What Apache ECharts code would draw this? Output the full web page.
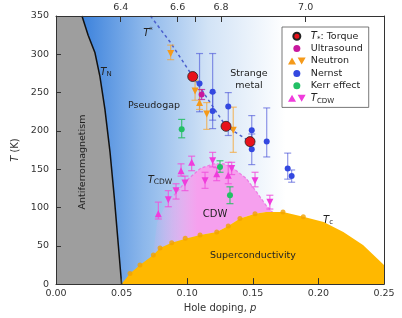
<!DOCTYPE html>
<html><head><meta charset="utf-8">
<script src="https://cdn.jsdelivr.net/npm/echarts@6/dist/echarts.min.js"></script>
<style>html,body{margin:0;padding:0;background:#fff}#c{width:402px;height:318px}</style>
</head><body><div id="c"></div>
<script>
// ---- phase boundaries ----
const tnP = [0.0198, 0.0245, 0.0297, 0.0335, 0.0373, 0.0412, 0.0445, 0.0475, 0.0500];
const tnT = [350, 325, 302, 271, 228, 172, 112, 51, 0];
const scP = [0.050, 0.0564, 0.064, 0.0742, 0.0793, 0.0882, 0.100, 0.1098, 0.1225, 0.1313, 0.1402, 0.1517, 0.160, 0.173, 0.1885, 0.204, 0.219, 0.234, 0.2444, 0.250];
const scT = [0, 14, 25, 38, 47, 54, 60, 64, 68, 76, 85.6, 92, 94, 94, 88, 81, 68, 51, 34, 25];
const scDotP = [0.0564, 0.064, 0.0742, 0.0793, 0.0882, 0.0985, 0.1098, 0.1225, 0.1313, 0.1402, 0.1517, 0.173, 0.1885];
const scDotT = [14, 25, 38, 47, 54, 60, 64, 68, 76, 85.6, 92, 94, 88];
const cdwP = [0.074, 0.077, 0.082, 0.090, 0.100, 0.110, 0.120, 0.128, 0.136, 0.145, 0.153, 0.160, 0.165];
const cdwT = [39, 80, 98, 116, 136, 151, 157, 157, 150, 138, 120, 103, 94];
const tStarP = [0.072, 0.087, 0.1042, 0.1296, 0.1479];
const tStarT = [350, 316, 271, 206, 186];

// ---- measurements ----
const torqueP = [0.1042, 0.1296, 0.1479];
const torqueT = [271, 206, 186];
const ultraP = [0.111];  const ultraT = [247.6];
const ultraLo = [241];   const ultraHi = [254];
const neutronP = [0.0874, 0.106, 0.1094, 0.1149, 0.1351];
const neutronT = [301, 252, 237, 222, 201];
const neutronLo = [293, 240, 228, 202, 172];
const neutronHi = [312, 266, 254, 237, 231];
const neutronDir = ['down', 'down', 'up', 'down', 'down'];
const nernstP = [0.1094, 0.1194, 0.1194, 0.1313, 0.1492, 0.1492, 0.1606, 0.1766, 0.1796];
const nernstT = [262, 251, 226, 232, 201, 176, 186, 151, 141];
const nernstLo = [225, 214, 203, 194, 182, 156, 166, 137, 133];
const nernstHi = [301, 301, 250, 250, 220, 196, 230, 171, 149];
const kerrP = [0.0958, 0.125, 0.1326];
const kerrT = [202, 153, 116];
const kerrLo = [191, 146, 105];
const kerrHi = [215, 161, 127];
const cdwMP = [0.078, 0.0953, 0.1034, 0.1225, 0.1313, 0.0856, 0.0915, 0.0983, 0.1136, 0.1194, 0.1339, 0.1517, 0.163];
const cdwMT = [92, 148, 159, 144, 142, 110, 122, 132, 135, 161, 151, 135, 107];
const cdwMLo = [85, 141, 148, 135, 131, 101, 111, 122, 125, 153, 143, 127, 98];
const cdwMHi = [107, 157, 167, 152, 159, 122, 131, 141, 146, 172, 159, 146, 116];
const cdwMDir = ['up','up','up','up','up','down','down','down','down','down','down','down','down'];

// ---- axis ticks ----
const xTicks = [0, 0.05, 0.10, 0.15, 0.20, 0.25];
const yTicks = [0, 50, 100, 150, 200, 250, 300, 350];
const topLabelP = [0.0493, 0.0927, 0.1258, 0.1903];
const topLabels = ['6.4', '6.6', '6.8', '7.0'];
const topTickP = [0.0493, 0.0927, 0.1065, 0.1258, 0.1903];

const FONT = 'DejaVu Sans';
const chart = echarts.init(document.getElementById('c'), null, {renderer: 'canvas'});

function pts(api, ps, ts) { return ps.map((p, i) => api.coord([p, ts[i]])); }

const regions = {
  type: 'custom', coordinateSystem: 'cartesian2d', z: 1, silent: true,
  data: [[0, 0]],
  renderItem: (params, api) => {
    const c = (p, t) => api.coord([p, t]);
    const tn = pts(api, tnP, tnT);
    const xa = c(tnP[0], 0)[0], xb = c(0.175, 0)[0];
    const blue = new echarts.graphic.LinearGradient(xa, 0, xb, 0, [
      {offset: 0, color: 'rgb(60,130,220)'},
      {offset: 0.3, color: 'rgb(140,183,235)'},
      {offset: 0.62, color: 'rgb(210,227,246)'},
      {offset: 1, color: 'rgb(255,255,255)'}
    ], true);
    const sc = pts(api, scP, scT);
    const scPoly = [...sc, c(0.25, 0)];
    const top = pts(api, cdwP, cdwT);
    const bot = [];
    for (let i = scP.length - 1; i >= 0; i--) {
      if (scP[i] > cdwP[0] && scP[i] < cdwP[cdwP.length - 1]) bot.push(c(scP[i], scT[i]));
    }
    const pa = c(0.073, 0)[0], pb = c(0.108, 0)[0];
    const pink = new echarts.graphic.LinearGradient(pa, 0, pb, 0, [
      {offset: 0, color: 'rgba(246,160,238,0.05)'},
      {offset: 1, color: 'rgba(246,160,238,1)'}
    ], true);
    const ts = pts(api, tStarP, tStarT);
    return {type: 'group', children: [
      {type: 'polygon', shape: {points: [...tn, c(0.25, 0), c(0.25, 350)]}, style: {fill: blue}},
      {type: 'polygon', shape: {points: [c(0, 350), ...tn, c(0, 0)]}, style: {fill: '#9e9e9e'}},
      {type: 'polygon', shape: {points: [...top, ...bot]}, style: {fill: pink}},
      {type: 'polyline', shape: {points: top.slice(3)}, style: {stroke: 'rgba(236,110,224,0.85)', lineWidth: 1.2, lineDash: [3, 2], fill: null}},
      {type: 'polygon', shape: {points: scPoly}, style: {fill: '#ffb800'}},
      {type: 'polyline', shape: {points: tn}, style: {stroke: '#111', lineWidth: 1.5, fill: null}},
      {type: 'polyline', shape: {points: ts}, style: {stroke: 'rgb(75,95,205)', lineWidth: 1.5, lineDash: [3, 3], fill: null}}
    ]};
  }
};

function errSeries(ps, los, his, color) {
  return {
    type: 'custom', coordinateSystem: 'cartesian2d', z: 3, silent: true,
    data: ps.map((p, i) => [p, los[i], his[i]]),
    renderItem: (params, api) => {
      const a = api.coord([api.value(0), api.value(1)]);
      const b = api.coord([api.value(0), api.value(2)]);
      const w = 3.5, st = {stroke: color, lineWidth: 1.2};
      return {type: 'group', children: [
        {type: 'line', shape: {x1: a[0], y1: a[1], x2: b[0], y2: b[1]}, style: st},
        {type: 'line', shape: {x1: a[0] - w, y1: a[1], x2: a[0] + w, y2: a[1]}, style: st},
        {type: 'line', shape: {x1: b[0] - w, y1: b[1], x2: b[0] + w, y2: b[1]}, style: st}
      ]};
    }
  };
}
function triData(ps, ts, dirs) {
  return ps.map((p, i) => ({value: [p, ts[i]], symbol: 'triangle', symbolRotate: dirs[i] === 'down' ? 180 : 0}));
}
const pairIcon = 'path://M0,8L4.6,0L9.2,8Z M11,0L20.2,0L15.6,8Z';

const option = {
  animation: false,
  backgroundColor: '#fff',
  textStyle: {fontFamily: FONT},
  grid: {left: 56, right: 18, top: 16, bottom: 32},
  xAxis: [{
    type: 'value', min: 0, max: 0.25, interval: 0.05, position: 'bottom', z: 10,
    axisLine: {show: true, onZero: false, lineStyle: {color: '#333', width: 1}},
    axisTick: {show: true, inside: true, length: 6, lineStyle: {color: '#333'}},
    axisLabel: {color: '#333', fontSize: 9.5, margin: 4, fontFamily: FONT, formatter: v => v.toFixed(2)},
    splitLine: {show: false},
    name: '{n|Hole doping, }{i|p}', nameLocation: 'middle', nameGap: 17,
    nameTextStyle: {rich: {n: {fontSize: 10, color: '#333', fontFamily: FONT}, i: {fontSize: 10, color: '#333', fontStyle: 'italic', fontFamily: FONT}}}
  }, {
    type: 'value', min: 0, max: 0.25, position: 'top', z: 10,
    axisLine: {show: true, onZero: false, lineStyle: {color: '#333', width: 1}},
    axisTick: {show: true, inside: true, length: 6, customValues: topTickP, lineStyle: {color: '#333'}},
    axisLabel: {show: true, color: '#333', fontSize: 9.5, margin: 3, fontFamily: FONT, customValues: topLabelP,
      formatter: v => { let best = 0; topLabelP.forEach((q, i) => { if (Math.abs(q - v) < Math.abs(topLabelP[best] - v)) best = i; }); return topLabels[best]; }},
    splitLine: {show: false}
  }],
  yAxis: [{
    type: 'value', min: 0, max: 350, interval: 50, z: 10,
    axisLine: {show: true, onZero: false, lineStyle: {color: '#333', width: 1}},
    axisTick: {show: true, inside: true, length: 5, lineStyle: {color: '#333'}},
    axisLabel: {color: '#333', fontSize: 9.5, margin: 7, fontFamily: FONT},
    splitLine: {show: false},
    name: '{i|T} (K)', nameLocation: 'middle', nameGap: 35, nameRotate: 90,
    nameTextStyle: {fontSize: 10, color: '#333', rich: {i: {fontStyle: 'italic', fontSize: 10, color: '#333', fontFamily: FONT}}}
  }, {
    type: 'value', min: 0, max: 350, position: 'right', z: 10,
    axisLine: {show: true, onZero: false, lineStyle: {color: '#333', width: 1}},
    axisTick: {show: false}, axisLabel: {show: false}, splitLine: {show: false}
  }],
  legend: {
    orient: 'vertical', left: 282, top: 27, padding: [3, 6, 3, 6],
    itemWidth: 18, itemHeight: 7, itemGap: 0, selectedMode: false,
    backgroundColor: '#fff', borderColor: '#555', borderWidth: 0.8, borderRadius: 0,
    data: [
      {name: 'T*: Torque', icon: 'circle'},
      {name: 'Ultrasound', icon: 'circle'},
      {name: 'Neutron', icon: pairIcon},
      {name: 'Nernst', icon: 'circle'},
      {name: 'Kerr effect', icon: 'circle'},
      {name: 'TCDW', icon: pairIcon}
    ],
    formatter: n => n === 'T*: Torque' ? '{i|T}{s|*}{t|: Torque}' : (n === 'TCDW' ? '{i|T}{b|CDW}' : n),
    textStyle: {fontSize: 9.5, color: '#222', lineHeight: 12.4, fontFamily: FONT,
      rich: {
        i: {fontStyle: 'italic', fontSize: 10, lineHeight: 12.4, fontFamily: FONT, color: '#222'},
        s: {fontSize: 7, lineHeight: 12.4, verticalAlign: 'bottom', fontFamily: FONT, color: '#222'},
        b: {fontSize: 7, lineHeight: 12.4, verticalAlign: 'bottom', fontFamily: FONT, color: '#222'},
        t: {fontSize: 9.5, lineHeight: 12.4, fontFamily: FONT, color: '#222'}
      }}
  },
  graphic: [
    {type: 'text', x: 154, y: 106, z: 20, style: {text: 'Pseudogap', fontFamily: FONT, fontSize: 9.5, fill: '#222', align: 'center', verticalAlign: 'middle'}},
    {type: 'text', x: 249, y: 80, z: 20, style: {text: 'Strange\nmetal', fontFamily: FONT, fontSize: 9.5, lineHeight: 12, fill: '#222', align: 'center', verticalAlign: 'middle'}},
    {type: 'text', x: 148, y: 33, z: 20, style: {text: '{i|T}{s|*}', fontFamily: FONT, align: 'center', verticalAlign: 'middle',
      rich: {i: {fontStyle: 'italic', fontSize: 10, lineHeight: 12, fill: '#222', fontFamily: FONT}, s: {fontSize: 7, lineHeight: 12, verticalAlign: 'top', fill: '#222', fontFamily: FONT}}}},
    {type: 'text', x: 106, y: 72, z: 20, style: {text: '{i|T}{s|N}', fontFamily: FONT, align: 'center', verticalAlign: 'middle',
      rich: {i: {fontStyle: 'italic', fontSize: 10, lineHeight: 12, fill: '#222', fontFamily: FONT}, s: {fontSize: 7, lineHeight: 12, verticalAlign: 'bottom', fill: '#222', fontFamily: FONT}}}},
    {type: 'text', x: 82.5, y: 162, rotation: Math.PI / 2, z: 20, style: {text: 'Antiferromagnetism', fontFamily: FONT, fontSize: 9.5, fill: '#222', align: 'center', verticalAlign: 'middle'}},
    {type: 'text', x: 160, y: 180, z: 20, style: {text: '{i|T}{s|CDW}', fontFamily: FONT, align: 'center', verticalAlign: 'middle',
      rich: {i: {fontStyle: 'italic', fontSize: 10, lineHeight: 12, fill: '#222', fontFamily: FONT}, s: {fontSize: 7.5, lineHeight: 12, verticalAlign: 'bottom', fill: '#222', fontFamily: FONT}}}},
    {type: 'text', x: 215, y: 214, z: 20, style: {text: 'CDW', fontFamily: FONT, fontSize: 10, fill: '#222', align: 'center', verticalAlign: 'middle'}},
    {type: 'text', x: 253, y: 256, z: 20, style: {text: 'Superconductivity', fontFamily: FONT, fontSize: 9.5, fill: '#222', align: 'center', verticalAlign: 'middle'}},
    {type: 'text', x: 328, y: 220, z: 20, style: {text: '{i|T}{s|c}', fontFamily: FONT, align: 'center', verticalAlign: 'middle',
      rich: {i: {fontStyle: 'italic', fontSize: 10, lineHeight: 12, fill: '#222', fontFamily: FONT}, s: {fontSize: 7, lineHeight: 12, verticalAlign: 'bottom', fill: '#222', fontFamily: FONT}}}}
  ],
  series: [
    regions,
    {type: 'scatter', z: 2, silent: true, symbol: 'circle', symbolSize: 5, itemStyle: {color: '#f2a300'},
      data: scDotP.map((p, i) => [p, scDotT[i]])},
    errSeries(nernstP, nernstLo, nernstHi, 'rgba(70,80,215,0.6)'),
    errSeries(neutronP, neutronLo, neutronHi, 'rgba(246,165,50,0.7)'),
    errSeries(kerrP, kerrLo, kerrHi, 'rgba(40,190,100,0.85)'),
    errSeries(cdwMP, cdwMLo, cdwMHi, 'rgba(240,80,220,0.8)'),
    errSeries(ultraP, ultraLo, ultraHi, 'rgba(190,30,160,0.8)'),
    {type: 'scatter', name: 'Nernst', z: 5, symbol: 'circle', symbolSize: 6, itemStyle: {color: '#3348e0', opacity: 1},
      data: nernstP.map((p, i) => [p, nernstT[i]])},
    {type: 'scatter', name: 'Neutron', z: 5, symbolSize: 7, itemStyle: {color: '#f59a1a', opacity: 1},
      data: triData(neutronP, neutronT, neutronDir)},
    {type: 'scatter', name: 'Kerr effect', z: 5, symbol: 'circle', symbolSize: 6, itemStyle: {color: '#22c065', opacity: 1},
      data: kerrP.map((p, i) => [p, kerrT[i]])},
    {type: 'scatter', name: 'TCDW', z: 5, symbolSize: 7, itemStyle: {color: '#f03cdc', opacity: 1},
      data: triData(cdwMP, cdwMT, cdwMDir)},
    {type: 'scatter', name: 'Ultrasound', z: 6, symbol: 'circle', symbolSize: 6, itemStyle: {color: '#c8189e', opacity: 1},
      data: ultraP.map((p, i) => [p, ultraT[i]])},
    {type: 'scatter', name: 'T*: Torque', z: 7, symbol: 'circle', symbolSize: 10, itemStyle: {color: '#e8121b', borderColor: '#222', borderWidth: 0.8, opacity: 1},
      data: torqueP.map((p, i) => [p, torqueT[i]])}
  ]
};
chart.setOption(option);
</script>
</body></html>
